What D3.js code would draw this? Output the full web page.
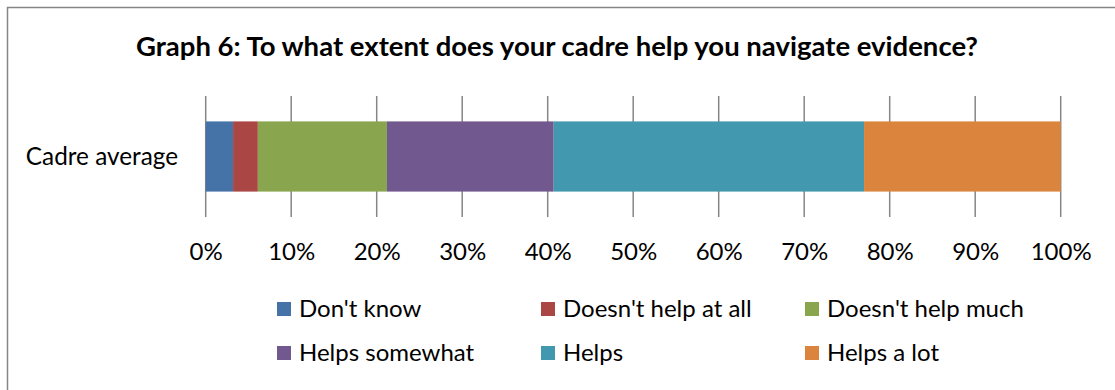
<!DOCTYPE html>
<html>
<head>
<meta charset="utf-8">
<script src="https://cdn.jsdelivr.net/npm/d3@7"></script>
<style>
  body { margin: 0; background: #fff; }
  text { font-family: Lato, "Noto Sans", sans-serif; fill: #000; }
</style>
</head>
<body>
<div id="chart"></div>
<script>
// chart data
const title = "Graph 6: To what extent does your cadre help you navigate evidence?";
const categories = ["Cadre average"];
const seriesNames = ["Don't know", "Doesn't help at all", "Doesn't help much", "Helps somewhat", "Helps", "Helps a lot"];
const seriesValues = [3.2, 2.9, 15.1, 19.5, 36.3, 23.0];
const seriesColors = ["#4572A7", "#AA4643", "#89A54E", "#71588F", "#4198AF", "#DB843D"];
const tickValues = [0, 10, 20, 30, 40, 50, 60, 70, 80, 90, 100];

const W = 1115, H = 390;
const svg = d3.select("#chart").append("svg")
  .attr("width", W)
  .attr("height", H);

// outer frame (right and bottom edges fall off the picture)
svg.append("rect")
  .attr("x", 7.5).attr("y", 7.5)
  .attr("width", W + 10).attr("height", H + 10)
  .attr("fill", "none")
  .attr("stroke", "#868686")
  .attr("stroke-width", 1.5);

// title
svg.append("text")
  .attr("x", 557).attr("y", 56)
  .attr("text-anchor", "middle")
  .attr("font-weight", "bold")
  .attr("font-size", 27.5)
  .text(title);

let plot = {left: 205.7, right: 1060.7, top: 96, bottom: 217};

let x = d3.scaleLinear().domain([0, 100]).range([plot.left, plot.right]);
let y = d3.scaleBand().domain(categories).range([plot.top, plot.bottom]).paddingInner(0.42).paddingOuter(0.21);

// vertical gridlines
svg.append("g")
  .selectAll("line")
  .data(tickValues)
  .join("line")
  .attr("x1", d => x(d)).attr("x2", d => x(d))
  .attr("y1", plot.top).attr("y2", plot.bottom)
  .attr("stroke", "#868686")
  .attr("stroke-width", 1.5);

// stacked segments
let stacked = [];
let acc = 0;
seriesValues.forEach((v, i) => {
  stacked.push({name: seriesNames[i], x0: acc, x1: acc + v, color: seriesColors[i]});
  acc += v;
});

svg.append("g")
  .selectAll("rect")
  .data(stacked)
  .join("rect")
  .attr("x", d => x(d.x0))
  .attr("y", y(categories[0]))
  .attr("width", d => x(d.x1) - x(d.x0))
  .attr("height", y.bandwidth())
  .attr("fill", d => d.color);

// category label
svg.append("text")
  .attr("x", 178)
  .attr("y", y(categories[0]) + y.bandwidth() / 2)
  .attr("dy", "0.35em")
  .attr("text-anchor", "end")
  .attr("font-size", 24.3)
  .text(categories[0]);

// axis tick labels
let xAxis = d3.axisBottom(x)
  .tickValues(tickValues)
  .tickFormat(d => d + "%")
  .tickSize(0)
  .tickPadding(0);

let axisG = svg.append("g")
  .attr("transform", `translate(0, 260)`)
  .call(xAxis);
axisG.select(".domain").remove();
axisG.selectAll("text")
  .attr("dy", 0)
  .attr("font-size", 24)
  .attr("font-family", null)
  .attr("fill", "#000");

// legend
let legend = svg.append("g");
seriesNames.forEach((name, i) => {
  let col = i % 3, row = Math.floor(i / 3);
  let lx = 277 + col * 264, ly = 309 + row * 44;
  legend.append("rect")
    .attr("x", lx).attr("y", ly - 7)
    .attr("width", 14).attr("height", 14)
    .attr("fill", seriesColors[i]);
  legend.append("text")
    .attr("x", lx + 22).attr("y", ly)
    .attr("dy", "0.35em")
    .attr("font-size", 24)
    .text(name);
});
</script>
</body>
</html>
